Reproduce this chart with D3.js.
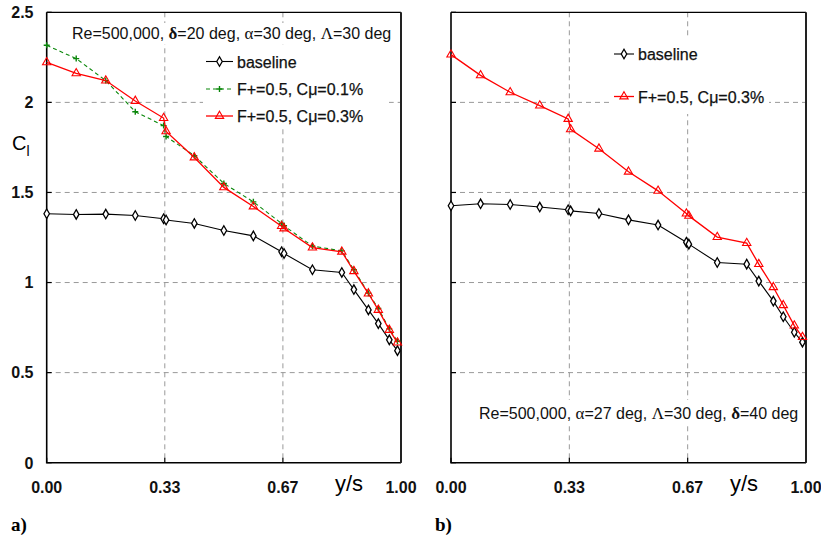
<!DOCTYPE html>
<html><head><meta charset="utf-8">
<script src="https://cdn.jsdelivr.net/npm/d3@7"></script>
<style>
html,body{margin:0;padding:0;background:#fff;}
svg{display:block;font-family:"Liberation Sans",Arial,Helvetica,sans-serif;}
</style></head>
<body>
<svg id="chart" width="821" height="537"></svg>
<script>
// ---- data ----
const spanPos = [0, 0.0833, 0.1667, 0.25, 0.33, 0.337, 0.4167, 0.5, 0.5833, 0.663, 0.67, 0.75, 0.833, 0.867, 0.908, 0.936, 0.967, 0.99];
const leftBaseline = [1.382, 1.378, 1.380, 1.372, 1.354, 1.347, 1.328, 1.289, 1.259, 1.171, 1.161, 1.071, 1.056, 0.961, 0.848, 0.772, 0.682, 0.622];
const leftCmu01 = [2.317, 2.243, 2.121, 1.948, 1.871, 1.811, 1.704, 1.550, 1.448, 1.328, 1.315, 1.202, 1.176, 1.071, 0.941, 0.856, 0.743, 0.674];
const leftCmu03 = [2.222, 2.161, 2.121, 2.008, 1.913, 1.839, 1.694, 1.528, 1.422, 1.313, 1.300, 1.194, 1.171, 1.063, 0.939, 0.848, 0.737, 0.667];
const rightBaseline = [1.426, 1.437, 1.433, 1.419, 1.404, 1.398, 1.383, 1.348, 1.319, 1.224, 1.213, 1.111, 1.102, 1.008, 0.897, 0.810, 0.724, 0.669];
const rightCmu03 = [2.265, 2.150, 2.056, 1.982, 1.908, 1.850, 1.743, 1.615, 1.509, 1.383, 1.370, 1.252, 1.219, 1.102, 0.974, 0.874, 0.761, 0.697];
const xTicks = [0, 1/3, 2/3, 1];
const xTickLabels = ["0.00", "0.33", "0.67", "1.00"];
const yTicks = [0, 0.5, 1, 1.5, 2, 2.5];
const yTickLabels = ["0", "0.5", "1", "1.5", "2", "2.5"];
const legendLeft = ["baseline", "F+=0.5, Cμ=0.1%", "F+=0.5, Cμ=0.3%"];
const legendRight = ["baseline", "F+=0.5, Cμ=0.3%"];

const svg = d3.select("#chart");
const yTop = 12.3, yBot = 462.7;
const y = d3.scaleLinear().domain([0, 2.5]).range([yBot, yTop]);

const styles = {
  base: {color: "#000", dash: null, width: 1.1, marker: "diamond"},
  c01: {color: "#0a870a", dash: "4,3", width: 1.1, marker: "plus"},
  c03: {color: "#ff0000", dash: null, width: 1.3, marker: "triangle"}
};

function drawMarker(g, type, color, cx, cy) {
  if (type === "diamond") {
    g.append("path").attr("d", d3.symbol(d3.symbolDiamond, 26)())
      .attr("transform", `translate(${cx},${cy})`)
      .attr("fill", "#fff").attr("stroke", color).attr("stroke-width", 1.3);
  } else if (type === "triangle") {
    g.append("path").attr("d", d3.symbol(d3.symbolTriangle, 30)())
      .attr("transform", `translate(${cx},${cy})`)
      .attr("fill", "none").attr("stroke", color).attr("stroke-width", 1.1);
  } else {
    g.append("path").attr("d", `M${cx-3},${cy}H${cx+3}M${cx},${cy-3}V${cy+3}`)
      .attr("stroke", color).attr("stroke-width", 1.4);
  }
}

function panel(x0, x1, opts) {
  const x = d3.scaleLinear().domain([0, 1]).range([x0, x1]);
  const g = svg.append("g");
  // grid
  g.selectAll(".hg").data(yTicks.filter(v => v > 0 && v < 2.5)).enter().append("line")
    .attr("x1", x0).attr("x2", x1).attr("y1", d => y(d)).attr("y2", d => y(d))
    .attr("stroke", "#999").attr("stroke-width", 1).attr("stroke-dasharray", "5,4");
  g.selectAll(".vg").data(xTicks.slice(1, 3)).enter().append("line")
    .attr("x1", d => x(d)).attr("x2", d => x(d)).attr("y1", yTop).attr("y2", yBot)
    .attr("stroke", "#999").attr("stroke-width", 1).attr("stroke-dasharray", "5,4");
  // white boxes
  opts.boxes.forEach(b => g.append("rect").attr("x", b[0]).attr("y", b[1]).attr("width", b[2]).attr("height", b[3]).attr("fill", "#fff"));
  // ticks inward
  g.selectAll(".yt").data(yTicks).enter().append("line")
    .attr("x1", x0).attr("x2", x0 + 5).attr("y1", d => y(d)).attr("y2", d => y(d))
    .attr("stroke", "#000").attr("stroke-width", 1.2);
  g.selectAll(".xt").data(xTicks).enter().append("line")
    .attr("x1", d => x(d)).attr("x2", d => x(d)).attr("y1", yBot).attr("y2", yBot - 5)
    .attr("stroke", "#000").attr("stroke-width", 1.2);
  // frame
  g.append("path").attr("d", `M${x0},${yTop}V${yBot}H${x1}`).attr("fill", "none").attr("stroke", "#000").attr("stroke-width", 1.6);
  g.append("path").attr("d", `M${x0},${yTop}H${x1}`).attr("fill", "none").attr("stroke", "#000").attr("stroke-width", 1.3);
  g.append("path").attr("d", `M${x1},${yTop}V${yBot}`).attr("fill", "none").attr("stroke", "#222").attr("stroke-width", 2);
  // series
  opts.series.forEach(s => {
    const st = styles[s.key];
    const pts = spanPos.map((p, i) => [x(p), y(s.values[i])]);
    g.append("path").attr("d", d3.line()(pts)).attr("fill", "none")
      .attr("stroke", st.color).attr("stroke-width", st.width)
      .attr("stroke-dasharray", st.dash);
    pts.forEach(p => drawMarker(g, st.marker, st.color, p[0], p[1]));
  });
  // x tick labels
  g.selectAll(".xl").data(xTicks).enter().append("text")
    .attr("x", d => x(d)).attr("y", 492.5).attr("text-anchor", "middle")
    .attr("font-size", 16).attr("font-weight", "bold").attr("fill", "#111")
    .text((d, i) => xTickLabels[i]);
  g.append("text").attr("x", opts.ysX).attr("y", 491).attr("text-anchor", "middle")
    .attr("font-size", 22).text("y/s");
  // legend
  opts.legend.forEach((L, i) => {
    const st = styles[L.key];
    const ly = L.y;
    g.append("line").attr("x1", L.x1).attr("x2", L.x2).attr("y1", ly).attr("y2", ly)
      .attr("stroke", st.color).attr("stroke-width", st.width).attr("stroke-dasharray", st.dash);
    drawMarker(g, st.marker, st.color, (L.x1 + L.x2) / 2, ly);
    g.append("text").attr("x", L.x2 + 4).attr("y", ly + 6).attr("font-size", 16)
      .attr("fill", "#111").attr("stroke", "#111").attr("stroke-width", 0.25).text(L.label);
  });
  return g;
}

const gl = panel(46.7, 401, {
  ysX: 349,
  boxes: [[70, 23, 322, 21], [203, 48, 186, 80]],
  series: [{key: "base", values: leftBaseline}, {key: "c01", values: leftCmu01}, {key: "c03", values: leftCmu03}],
  legend: [
    {key: "base", label: legendLeft[0], x1: 206, x2: 233, y: 61.5},
    {key: "c01", label: legendLeft[1], x1: 206, x2: 233, y: 89},
    {key: "c03", label: legendLeft[2], x1: 206, x2: 233, y: 116}
  ]
});
const gr = panel(451, 806, {
  ysX: 744,
  boxes: [[611, 38, 158, 76], [477, 400, 329, 26]],
  series: [{key: "base", values: rightBaseline}, {key: "c03", values: rightCmu03}],
  legend: [
    {key: "base", label: legendRight[0], x1: 614, x2: 634, y: 54},
    {key: "c03", label: legendRight[1], x1: 614, x2: 634, y: 96.5}
  ]
});

// y tick labels (left panel only)
svg.selectAll(".yl").data(yTicks).enter().append("text")
  .attr("x", 33.5).attr("y", d => y(d) + 5.8).attr("text-anchor", "end")
  .attr("font-size", 16).attr("font-weight", "bold").attr("fill", "#111")
  .text((d, i) => yTickLabels[i]);

// C_l label
const cl = svg.append("text").attr("x", 12).attr("y", 150).attr("font-size", 20);
cl.append("tspan").text("C");
cl.append("tspan").attr("font-size", 14).attr("dy", 6).text("l");

// annotations
function annot(xs, ys, parts) {
  const t = svg.append("text").attr("x", xs).attr("y", ys).attr("font-size", 16).attr("fill", "#111");
  parts.forEach(p => {
    const s = t.append("tspan").text(p.t);
    if (p.serif) s.attr("font-family", "'Liberation Serif','Times New Roman',serif").attr("font-size", 17);
    if (p.bold) s.attr("font-weight", "bold");
  });
}
annot(72, 39, [
  {t: "Re=500,000,  "}, {t: "δ", serif: true, bold: true}, {t: "=20 deg, "},
  {t: "α", serif: true}, {t: "=30 deg, "}, {t: "Λ", serif: true}, {t: "=30 deg"}
]);
annot(479, 419, [
  {t: "Re=500,000,  "}, {t: "α", serif: true}, {t: "=27 deg, "},
  {t: "Λ", serif: true}, {t: "=30 deg, "}, {t: "δ", serif: true, bold: true}, {t: "=40 deg"}
]);

// panel letters
svg.append("text").attr("x", 11).attr("y", 531).attr("font-size", 19).attr("font-weight", "bold")
  .attr("font-family", "'Liberation Serif','Times New Roman',serif").text("a)");
svg.append("text").attr("x", 435).attr("y", 531).attr("font-size", 19).attr("font-weight", "bold")
  .attr("font-family", "'Liberation Serif','Times New Roman',serif").text("b)");
</script>
</body></html>
